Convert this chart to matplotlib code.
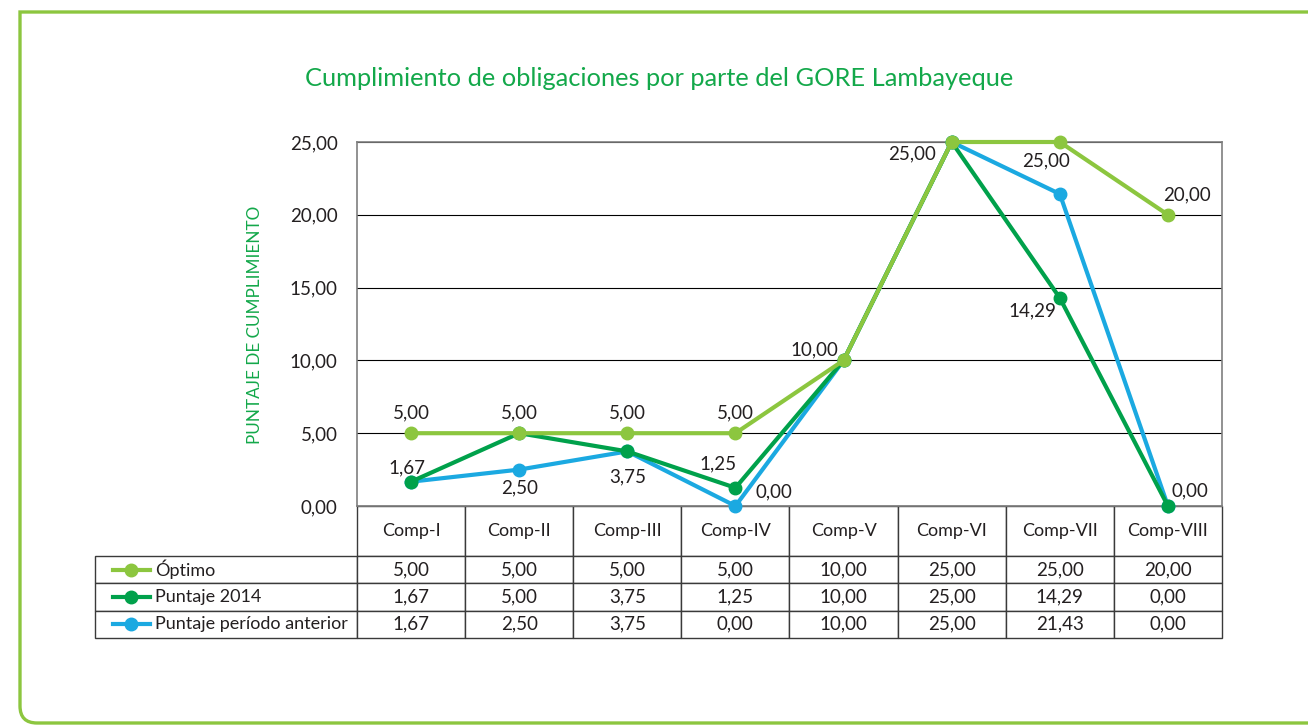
import matplotlib
matplotlib.use("Agg")
import matplotlib.pyplot as plt
from matplotlib.lines import Line2D
from matplotlib.path import Path
from matplotlib.patches import PathPatch

categories = ["Comp-I", "Comp-II", "Comp-III", "Comp-IV",
              "Comp-V", "Comp-VI", "Comp-VII", "Comp-VIII"]
series_names = ["Óptimo", "Puntaje 2014", "Puntaje período anterior"]
optimo = [5.00, 5.00, 5.00, 5.00, 10.00, 25.00, 25.00, 20.00]
puntaje_2014 = [1.67, 5.00, 3.75, 1.25, 10.00, 25.00, 14.29, 0.00]
puntaje_anterior = [1.67, 2.50, 3.75, 0.00, 10.00, 25.00, 21.43, 0.00]
y_ticks = [0, 5, 10, 15, 20, 25]

colors = ["#8cc63f", "#00a14b", "#1ba9e1"]
text_color = "#231f20"
title_green = "#13a84a"

# which point labels are shown, and their offset in pixels
label_offsets = {
    (0, 0): (0, 20), (0, 1): (0, 20), (0, 2): (0, 20), (0, 3): (0, 20),
    (0, 4): (-29, 11), (0, 5): (-40, -12), (0, 6): (-14, -19), (0, 7): (19, 20),
    (1, 0): (-4, 14), (1, 2): (0, -25), (1, 3): (-17, 24),
    (1, 6): (-27, -13), (1, 7): (22, 15),
    (2, 1): (0, -18), (2, 3): (39, 14),
}

plt.rcParams["font.family"] = ["Lato", "DejaVu Sans"]

W, H = 1308, 725


def fx(px):
    return px / W


def fy(py):
    return 1 - py / H


def fmt(v):
    return f"{v:.2f}".replace(".", ",")


fig = plt.figure(figsize=(W / 100, H / 100), dpi=100)
fig.patch.set_facecolor("white")

# frame with rounded lower-left corner
verts = [(fx(W + 10), fy(12)), (fx(20), fy(12)), (fx(20), fy(706)),
         (fx(20), fy(723)), (fx(37), fy(723)), (fx(W + 10), fy(723))]
codes = [Path.MOVETO, Path.LINETO, Path.LINETO, Path.CURVE3, Path.CURVE3, Path.LINETO]
fig.add_artist(PathPatch(Path(verts, codes), transform=fig.transFigure,
                         fill=False, edgecolor="#8cc63f", lw=2.4))

fig.text(fx(659), fy(78), "Cumplimiento de obligaciones por parte del GORE Lambayeque",
         ha="center", va="center", fontsize=18.3, color=title_green)

left, right, top, bottom = 357, 1222, 142, 506
ax = fig.add_axes([fx(left), fy(bottom), (right - left) / W, (bottom - top) / H])

all_series = [optimo, puntaje_2014, puntaje_anterior]
zorders = [5, 4, 3]
for s, (vals, col, z) in enumerate(zip(all_series, colors, zorders)):
    ax.plot(range(len(categories)), vals, color=col, lw=3, marker="o",
            markersize=9, zorder=z, clip_on=False)
    for i, v in enumerate(vals):
        if (s, i) in label_offsets:
            ax.annotate(fmt(v), (i, v), xytext=label_offsets[(s, i)],
                        textcoords="offset pixels", ha="center", va="center",
                        fontsize=13.5, color=text_color, zorder=6)

ax.set_xlim(-0.5, len(categories) - 0.5)
ax.set_ylim(0, 25)
ax.set_xticks([])
ax.set_yticks(y_ticks)
ax.set_yticklabels([fmt(t) for t in y_ticks])
ax.tick_params(axis="y", length=0, pad=14, labelsize=13.5, labelcolor=text_color)
ax.yaxis.grid(True, color="black", lw=0.8)
ax.set_axisbelow(True)
for sp in ax.spines.values():
    sp.set_color("#7f7f7f")
    sp.set_linewidth(1.2)

ax.set_ylabel("PUNTAJE DE CUMPLIMIENTO", color=title_green, fontsize=12.3)
ax.yaxis.set_label_coords((263 - left) / (right - left), 0.497)

# data table under the plot; first column carries the series names
ax_w, ax_h = right - left, bottom - top
head_h, row_h = 50, 27.3
lab_w, col_w = left - 95, (right - left) / len(categories)
cell_text = [[name] + [fmt(v) for v in vals]
             for name, vals in zip(series_names, all_series)]
tbl_h = head_h + 3 * row_h
tbl = ax.table(cellText=cell_text, colLabels=[""] + categories,
               cellLoc="center",
               colWidths=[lab_w / ax_w] + [col_w / ax_w] * len(categories),
               bbox=[-lab_w / ax_w, -tbl_h / ax_h, (lab_w + ax_w) / ax_w, tbl_h / ax_h])
tbl.auto_set_font_size(False)
tbl.set_fontsize(13.5)
for (r, c), cell in tbl.get_celld().items():
    cell.set_edgecolor("#3a3a3a")
    cell.set_linewidth(1)
    cell.set_height((head_h if r == 0 else row_h) / ax_h)
    cell.get_text().set_color(text_color)
    if r == 0:
        cell.get_text().set_fontsize(13)
    if c == 0:
        if r == 0:
            cell.visible_edges = "open"
        else:
            cell.get_text().set_horizontalalignment("left")
            cell.PAD = 0.23
            cell.get_text().set_fontsize(13)

# legend keys in the row-label cells
for k, col in enumerate(colors):
    yc = bottom + head_h + row_h * (k + 0.5)
    fig.add_artist(Line2D([fx(113), fx(131), fx(150)], [fy(yc)] * 3,
                          transform=fig.transFigure, color=col, lw=3,
                          marker="o", markersize=9, markevery=[1]))

fig.savefig("out.png", dpi=100)
